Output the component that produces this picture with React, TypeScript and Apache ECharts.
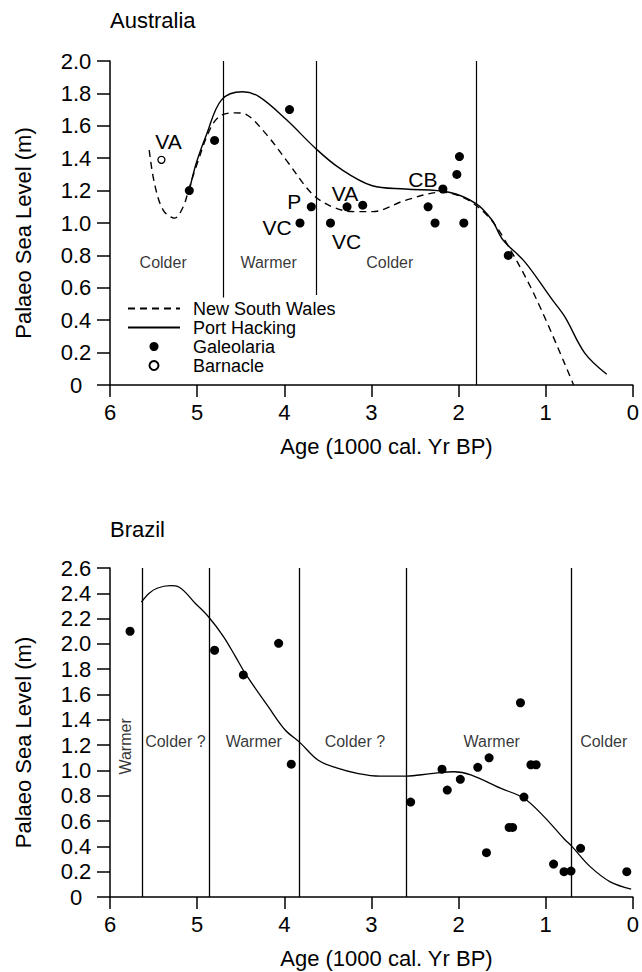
import React, { useEffect, useRef } from "react";
import * as echarts from "echarts";

const FONT = "'Liberation Sans', Arial, Helvetica, sans-serif";

// ---------- Australia ----------
const ausNewSouthWales: [number, number][] = [
  [5.55, 1.45], [5.49, 1.245], [5.39, 1.08], [5.26, 1.03], [5.16, 1.1], [5.1, 1.2],
  [5.01, 1.35], [4.86, 1.57], [4.74, 1.66], [4.57, 1.68], [4.44, 1.67], [4.21, 1.55],
  [3.98, 1.39], [3.68, 1.18], [3.45, 1.1], [3.2, 1.07], [2.99, 1.07], [2.61, 1.14],
  [2.19, 1.19], [1.92, 1.15], [1.66, 1.04], [1.47, 0.895], [1.12, 0.545], [0.68, 0.0],
];
const ausPortHacking: [number, number][] = [
  [5.09, 1.2], [5.01, 1.37], [4.89, 1.55], [4.72, 1.76], [4.48, 1.81], [4.29, 1.78],
  [3.98, 1.64], [3.64, 1.46], [3.37, 1.34], [2.99, 1.23], [2.61, 1.21], [2.11, 1.19],
  [1.8, 1.12], [1.62, 1.02], [1.49, 0.895], [1.24, 0.76], [0.93, 0.53], [0.78, 0.42],
  [0.55, 0.195], [0.3, 0.066],
];
const ausGaleolaria: [number, number][] = [
  [5.09, 1.2], [4.8, 1.51], [3.94, 1.7], [3.69, 1.1], [3.82, 1.0], [3.47, 1.0],
  [3.28, 1.1], [3.1, 1.11], [1.99, 1.41], [2.02, 1.3], [2.18, 1.21], [2.35, 1.1],
  [2.27, 1.0], [1.94, 1.0], [1.43, 0.8],
];
const ausGaleolariaTags = ["", "", "", "P", "VC", "VC", "VA", "", "", "", "CB", "", "", "", ""];
const ausBarnacle: [number, number][] = [[5.41, 1.39]];
const ausBarnacleTags = ["VA"];
const ausBoundaryAges = [4.7, 3.63, 1.8];
const ausBoundaryFrom = [0.54, 0.555, 0];
const ausBoundaryTo = [2.0, 2.0, 2.0];
const ausRegions: [number, number, string][] = [
  [5.39, 0.757, "Colder"], [4.18, 0.757, "Warmer"], [2.79, 0.757, "Colder"],
];

// ---------- Brazil ----------
const brCurve: [number, number][] = [
  [5.64, 2.33], [5.55, 2.4], [5.46, 2.44], [5.31, 2.46], [5.21, 2.45], [5.02, 2.32],
  [4.87, 2.215], [4.7, 2.06], [4.56, 1.9], [4.45, 1.77], [4.18, 1.5], [3.99, 1.32],
  [3.82, 1.22], [3.61, 1.08], [3.4, 1.02], [3.15, 0.975], [2.9, 0.955], [2.6, 0.955],
  [2.32, 0.975], [2.05, 0.99], [1.86, 0.965], [1.52, 0.86], [1.25, 0.78], [1.02, 0.635],
  [0.79, 0.46], [0.7, 0.4], [0.49, 0.24], [0.26, 0.12], [0.02, 0.063],
];
const brSamples: [number, number][] = [
  [5.77, 2.1], [4.8, 1.95], [4.47, 1.755], [4.065, 2.005], [3.92, 1.05], [2.55, 0.75],
  [2.19, 1.01], [2.13, 0.845], [1.98, 0.93], [1.78, 1.025], [1.65, 1.1], [1.68, 0.35],
  [1.42, 0.55], [1.38, 0.55], [1.29, 1.535], [1.25, 0.79], [1.17, 1.045], [1.11, 1.045],
  [0.91, 0.26], [0.79, 0.2], [0.71, 0.205], [0.6, 0.385], [0.07, 0.2],
];
const brBoundaryAges = [5.63, 4.86, 3.83, 2.6, 0.71];
const brRegions: [number, number, string][] = [
  [5.82, 1.19, "Warmer"], [5.25, 1.23, "Colder ?"], [4.35, 1.23, "Warmer"],
  [3.19, 1.23, "Colder ?"], [1.62, 1.23, "Warmer"], [0.335, 1.23, "Colder"],
];

const AXIS_NAME_X = "Age (1000 cal. Yr BP)";
const AXIS_NAME_Y = "Palaeo Sea Level (m)";
const LEGEND_NAMES = ["New South Wales", "Port Hacking", "Galeolaria", "Barnacle"];

// label offsets (style), index-aligned with the tag arrays
const galeolariaTagOffsets: Record<number, [number, number]> = {
  3: [-17, -5],
  4: [-23, 4],
  5: [16, 18],
  6: [-2, -13],
  10: [-20, -9],
};
const barnacleTagOffsets: Record<number, [number, number]> = { 0: [7, -18] };

function tagLabel(text: string, offset: [number, number]) {
  return {
    show: true,
    formatter: text,
    position: "inside",
    offset,
    color: "#000",
    fontSize: 21,
    fontFamily: FONT,
    textBorderWidth: 0,
  };
}

export default function App() {
  const ref = useRef<HTMLDivElement>(null);

  useEffect(() => {
    document.body.style.margin = "0";
    if (!ref.current) return;
    const chart = echarts.init(ref.current, undefined, { renderer: "svg" });

    const mkX = (i: number) => ({
      type: "value",
      gridIndex: i,
      min: 0,
      max: 6,
      interval: 1,
      inverse: true,
      name: AXIS_NAME_X,
      nameLocation: "middle",
      nameGap: 50,
      nameTextStyle: { fontSize: 22, color: "#000", fontFamily: FONT, padding: [0, 0, 0, 30] },
      axisLine: { onZero: false, lineStyle: { color: "#000", width: 1.5 } },
      axisTick: { length: 12, lineStyle: { color: "#000", width: 1.5 } },
      axisLabel: { fontSize: 22, color: "#000", margin: 16, fontFamily: FONT },
      splitLine: { show: false },
    });
    const mkY = (i: number, max: number) => ({
      type: "value",
      gridIndex: i,
      min: 0,
      max,
      interval: 0.2,
      name: AXIS_NAME_Y,
      nameLocation: "middle",
      nameGap: 76,
      nameTextStyle: { fontSize: 22, color: "#000", fontFamily: FONT, padding: [0, 20, 0, 0] },
      axisLine: { show: true, onZero: false, lineStyle: { color: "#000", width: 1.5 } },
      axisTick: { show: true, length: 13, lineStyle: { color: "#000", width: 1.5 } },
      axisLabel: {
        fontSize: 22,
        color: "#000",
        margin: 34,
        align: "center",
        fontFamily: FONT,
        formatter: (v: number) => (v === 0 ? "0" : v.toFixed(1)),
      },
      splitLine: { show: false },
    });

    const regionSeries = (i: number, regions: [number, number, string][], rotateFirst: boolean) => ({
      type: "scatter",
      xAxisIndex: i,
      yAxisIndex: i,
      silent: true,
      symbolSize: 1,
      itemStyle: { color: "transparent" },
      data: regions.map((r, k) => ({
        value: [r[0], r[1]],
        label: {
          show: true,
          formatter: r[2],
          position: "inside",
          color: "#000",
          fontSize: 16,
          fontFamily: FONT,
          textBorderWidth: 0,
          rotate: rotateFirst && k === 0 ? 90 : 0,
        },
      })),
    });

    const option = {
      animation: false,
      backgroundColor: "#fff",
      textStyle: { fontFamily: FONT },
      title: [
        { text: "Australia", left: 110, top: 9, padding: 0, textStyle: { fontSize: 22, fontWeight: "normal", color: "#000", fontFamily: FONT } },
        { text: "Brazil", left: 110, top: 518, padding: 0, textStyle: { fontSize: 22, fontWeight: "normal", color: "#000", fontFamily: FONT } },
      ],
      legend: {
        orient: "vertical",
        left: 122,
        top: 294,
        itemWidth: 52,
        itemHeight: 9,
        itemGap: 0,
        selectedMode: false,
        data: LEGEND_NAMES.map((n, k) => (k < 2 ? { name: n, itemStyle: { opacity: 0 } } : { name: n })),
        textStyle: { fontSize: 18, color: "#000", fontFamily: FONT, lineHeight: 19, padding: [0, 0, 0, 8] },
      },
      grid: [
        { left: 110, top: 61, width: 525, height: 324 },
        { left: 110, top: 568, width: 525, height: 329 },
      ],
      xAxis: [mkX(0), mkX(1)],
      yAxis: [mkY(0, 2.0), mkY(1, 2.6)],
      series: [
        {
          type: "lines",
          coordinateSystem: "cartesian2d",
          xAxisIndex: 0,
          yAxisIndex: 0,
          silent: true,
          lineStyle: { color: "#000", width: 1.2, opacity: 1 },
          data: ausBoundaryAges.map((a, k) => ({ coords: [[a, ausBoundaryFrom[k]], [a, ausBoundaryTo[k]]] })),
        },
        {
          name: LEGEND_NAMES[0],
          type: "line",
          xAxisIndex: 0,
          yAxisIndex: 0,
          smooth: 0.35,
          symbol: "none",
          lineStyle: { color: "#000", width: 1.4, type: [7, 5] },
          itemStyle: { color: "rgba(0,0,0,0)" },
          data: ausNewSouthWales,
        },
        {
          name: LEGEND_NAMES[1],
          type: "line",
          xAxisIndex: 0,
          yAxisIndex: 0,
          smooth: 0.35,
          symbol: "none",
          lineStyle: { color: "#000", width: 1.4 },
          itemStyle: { color: "rgba(0,0,0,0)" },
          data: ausPortHacking,
        },
        {
          name: LEGEND_NAMES[2],
          type: "scatter",
          xAxisIndex: 0,
          yAxisIndex: 0,
          symbol: "circle",
          symbolSize: 9,
          itemStyle: { color: "#000", opacity: 1 },
          data: ausGaleolaria.map((p, i) => ({
            value: p,
            label: ausGaleolariaTags[i] ? tagLabel(ausGaleolariaTags[i], galeolariaTagOffsets[i] || [0, -14]) : { show: false },
          })),
        },
        {
          name: LEGEND_NAMES[3],
          type: "scatter",
          xAxisIndex: 0,
          yAxisIndex: 0,
          symbol: "circle",
          symbolSize: 7,
          itemStyle: { color: "#fff", borderColor: "#000", borderWidth: 1.3, opacity: 1 },
          data: ausBarnacle.map((p, i) => ({
            value: p,
            label: ausBarnacleTags[i] ? tagLabel(ausBarnacleTags[i], barnacleTagOffsets[i] || [0, -14]) : { show: false },
          })),
        },
        regionSeries(0, ausRegions, false),
        {
          type: "lines",
          coordinateSystem: "cartesian2d",
          xAxisIndex: 1,
          yAxisIndex: 1,
          silent: true,
          lineStyle: { color: "#000", width: 1.3, opacity: 1 },
          data: brBoundaryAges.map((a) => ({ coords: [[a, 0], [a, 2.6]] })),
        },
        {
          name: "Brazil curve",
          type: "line",
          xAxisIndex: 1,
          yAxisIndex: 1,
          smooth: 0.35,
          symbol: "none",
          lineStyle: { color: "#000", width: 1.3 },
          data: brCurve,
        },
        {
          name: "Brazil samples",
          type: "scatter",
          xAxisIndex: 1,
          yAxisIndex: 1,
          symbol: "circle",
          symbolSize: 9,
          itemStyle: { color: "#000", opacity: 1 },
          data: brSamples,
        },
        regionSeries(1, brRegions, true),
      ],
    };

    chart.setOption(option as any);
    return () => chart.dispose();
  }, []);

  return <div ref={ref} style={{ width: 642, height: 972 }} />;
}
